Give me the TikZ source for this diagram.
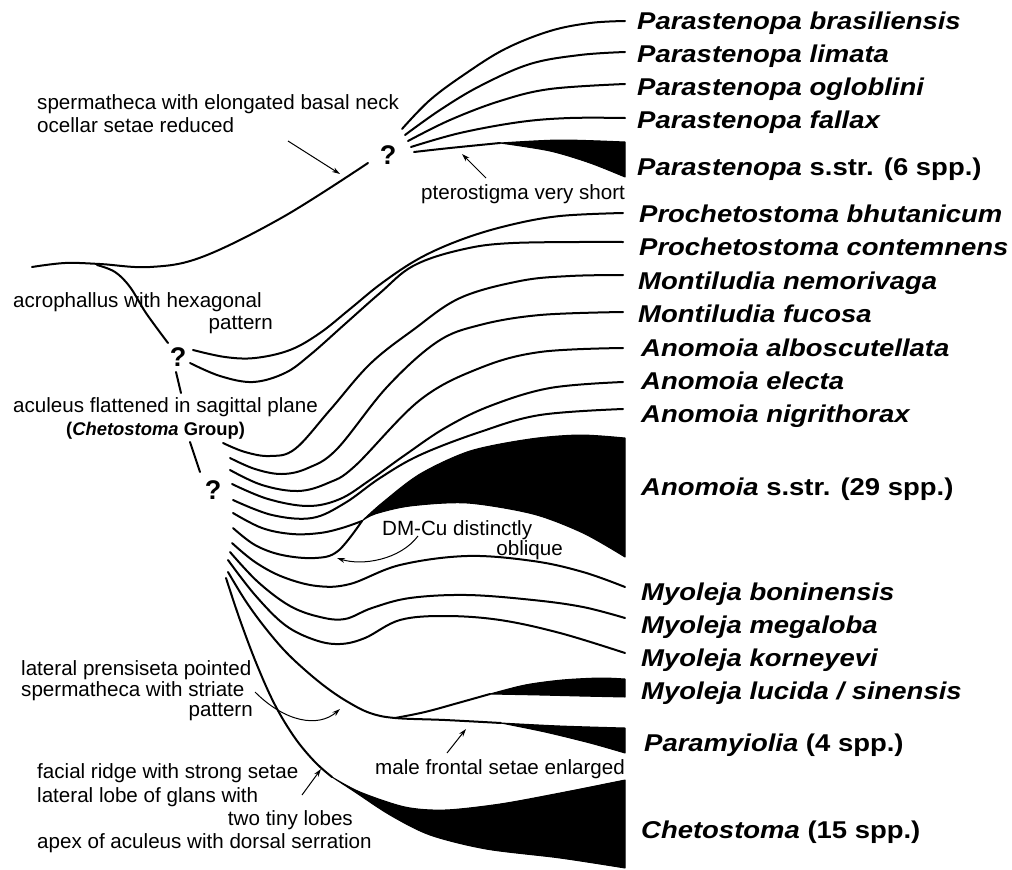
\documentclass[tikz,border=0pt]{standalone}
\usepackage{fontspec}
\setmainfont{Liberation Sans}
\newfontfamily\taxfont{Liberation Sans}[FakeStretch=1.13]
\usetikzlibrary{arrows.meta}

\begin{document}
\begin{tikzpicture}[
    x=1pt, y=-1pt,
    >={Stealth[length=8pt, width=5pt]},
    branch/.style={line width=2pt, line cap=round, line join=round},
    clade/.style={fill=black, draw=black, line width=1pt, line join=round},
    taxon/.style={anchor=base west, inner sep=0pt, font=\taxfont\fontsize{24.3}{28}\selectfont\bfseries\itshape},
    note/.style={anchor=base west, inner sep=0pt, font=\fontsize{20.6}{23}\selectfont},
    qmark/.style={inner sep=0pt, font=\fontsize{27}{28}\selectfont\bfseries},
    callout/.style={->, line width=1pt}
]

\useasboundingbox (0,0) rectangle (1012,870);

% 1. ROOT STEM AND BACKBONE
\draw[branch] plot[smooth, tension=0.6] coordinates {(32,267) (65,263) (100,264) (150,267) (202,257) (283,217) (368,163)};
\draw[branch] plot[smooth, tension=0.6] coordinates {(97,265) (115,272) (130,287) (146,313) (168,343)};
\draw[branch] (176,372) -- (181,393);
\draw[branch] (190,442) -- (200,472);

\node[qmark] (q1) at (388,155) {?};
\node[qmark] (q2) at (178,357) {?};
\node[qmark] (q3) at (213,490) {?};

% 2. PARASTENOPA FAN (upper ?)
\draw[branch] plot[smooth, tension=0.6] coordinates {(402,129) (430,100) (465,74) (505,49) (550,31) (590,23) (625,21)};
\draw[branch] plot[smooth, tension=0.6] coordinates {(405,135) (440,110) (480,86) (530,64) (580,55) (625,52)};
\draw[branch] plot[smooth, tension=0.6] coordinates {(408,141) (450,120) (500,101) (550,89) (625,84)};
\draw[branch] plot[smooth, tension=0.6] coordinates {(411,147) (460,133) (520,122) (570,118) (625,118)};
\draw[branch] plot[smooth, tension=0.6] coordinates {(414,152) (450,148) (500,143)};
\fill[clade] plot[smooth] coordinates {(500,143) (560,140) (625,142)}
    -- plot[smooth] coordinates {(625,177) (590,163) (550,151) (500,143)} -- cycle;

% 3. PROCHETOSTOMA (middle ?)
\draw[branch] plot[smooth, tension=0.6] coordinates {(193,350) (225,357) (255,358) (290,350) (320,333) (350,309) (382,283) (420,258) (463,239) (510,225) (560,216) (623,213)};
\draw[branch] plot[smooth, tension=0.6] coordinates {(190,363) (220,376) (253,382) (285,373) (310,355) (345,324) (380,293) (413,266) (460,250) (513,243) (623,242)};

% 4. CHETOSTOMA GROUP (lower ?)
\draw[branch] plot[smooth, tension=0.6] coordinates {(223,443) (245,452) (270,456) (295,449) (330,410) (370,364) (413,330) (460,298) (520,281) (570,276) (623,275)};
\draw[branch] plot[smooth, tension=0.6] coordinates {(230,458) (255,469) (282,474) (308,468) (337,449) (387,387) (437,342) (480,325) (540,315) (623,312)};
\draw[branch] plot[smooth, tension=0.6] coordinates {(230,470) (262,485) (298,491) (328,483) (355,466) (420,400) (480,368) (540,352) (623,348)};
\draw[branch] plot[smooth, tension=0.6] coordinates {(232,484) (268,499) (308,506) (340,499) (370,480) (405,455) (445,428) (490,406) (550,388) (623,382)};
\draw[branch] plot[smooth, tension=0.6] coordinates {(233,500) (272,515) (312,518) (345,503) (380,478) (420,455) (480,432) (540,415) (623,409)};

% Anomoia s.str.
\draw[branch] plot[smooth, tension=0.6] coordinates {(233,513) (262,528) (292,534) (320,533) (342,528) (362,521)};
\draw[branch] plot[smooth, tension=0.6] coordinates {(233,528) (255,545) (282,555) (315,558) (338,551) (362,521)};
\fill[clade] plot[smooth] coordinates {(362,521) (382,503) (420,474) (470,451) (530,439) (580,435) (625,438)}
    -- plot[smooth] coordinates {(625,557) (583,533) (533,514) (467,503) (410,506) (375,514) (362,521)} -- cycle;

% Myoleja
\draw[branch] plot[smooth, tension=0.6] coordinates {(232,543) (255,562) (283,577) (317,586) (350,584) (400,565) (467,556) (533,561) (583,572) (625,587)};
\draw[branch] plot[smooth, tension=0.6] coordinates {(230,552) (258,582) (290,606) (320,617) (345,619) (372,608) (410,598) (467,595) (533,600) (583,607) (625,618)};
\draw[branch] plot[smooth, tension=0.6] coordinates {(228,560) (255,595) (285,625) (315,640) (340,644) (365,638) (400,620) (445,616) (500,620) (560,633) (625,653)};

% Myoleja lucida / Paramyiolia
\draw[branch] plot[smooth, tension=0.6] coordinates {(228,572) (245,600) (263,625) (284,650) (305,670) (327,688) (348,702) (370,713) (395,718) (445,720) (501,723)};
\draw[branch] plot[smooth, tension=0.6] coordinates {(395,718) (425,712) (458,703) (490,694)};
\fill[clade] plot[smooth] coordinates {(490,694) (525,685) (562,680) (600,678) (625,679)}
    -- plot[smooth] coordinates {(625,697) (580,696) (540,695) (490,694)} -- cycle;
\fill[clade] plot[smooth] coordinates {(501,723) (560,726) (625,728)}
    -- plot[smooth] coordinates {(625,753) (590,743) (545,732) (501,723)} -- cycle;

% Chetostoma
\draw[branch] plot[smooth, tension=0.6] coordinates {(226,578) (240,620) (257,665) (275,705) (295,738) (315,762) (332,777)};
\fill[clade] plot[smooth] coordinates {(332,777) (360,792) (405,807) (445,810) (500,804) (560,793) (625,780)}
    -- plot[smooth] coordinates {(625,868) (560,858) (486,849) (430,835) (390,815) (355,792) (332,777)} -- cycle;

% 5. CHARACTER CALLOUTS
\draw[callout] (288,141) -- (340,174);
\draw[callout] (486,178) -- (462,154);
\draw[callout] (418,536) .. controls (400,560) and (362,566) .. (337,558);
\draw[callout] (255,692) .. controls (285,722) and (318,728) .. (340,709);
\draw[callout] (447,753) -- (466,729);
\draw[callout] (302,795) -- (321,769);

\node[note] (spermA) at (37,109) {spermatheca with elongated basal neck};
\node[note] (ocell) at (37,132) {ocellar setae reduced};
\node[note] (ptero) at (421,199) {pterostigma very short};
\node[note] (acroA) at (13,307) {acrophallus with hexagonal};
\node[note, anchor=base east] (acroB) at (273,329) {pattern};
\node[note] (acul) at (13,412) {aculeus flattened in sagittal plane};
\node[note, font=\fontsize{18.4}{21}\selectfont\bfseries] (cgroup) at (66,435) {(\textit{Chetostoma} Group)};
\node[note] (dmcuA) at (382,535) {DM-Cu distinctly};
\node[note, anchor=base east] (dmcuB) at (563,555) {oblique};
\node[note] (prensA) at (21,675) {lateral prensiseta pointed};
\node[note] (prensB) at (21,696) {spermatheca with striate};
\node[note, anchor=base east] (prensC) at (253,716) {pattern};
\node[note] (frons) at (375,774) {male frontal setae enlarged};
\node[note] (facA) at (37,778) {facial ridge with strong setae};
\node[note] (facB) at (37,802) {lateral lobe of glans with};
\node[note, anchor=base east] (facC) at (353,825) {two tiny lobes};
\node[note] (facD) at (37,848) {apex of aculeus with dorsal serration};

% 6. TAXA
\node[taxon] (brasil) at (637,29) {Parastenopa brasiliensis};
\node[taxon] (limata) at (637,62) {Parastenopa limata};
\node[taxon] (oglob) at (637,95) {Parastenopa ogloblini};
\node[taxon] (fallax) at (637,128) {Parastenopa fallax};
\node[taxon] (parastr) at (637,175) {Parastenopa \upshape s.str. (6 spp.)};
\node[taxon] (bhutan) at (639,222) {Prochetostoma bhutanicum};
\node[taxon] (contem) at (639,255) {Prochetostoma contemnens};
\node[taxon] (nemori) at (638,289) {Montiludia nemorivaga};
\node[taxon] (fucosa) at (638,322) {Montiludia fucosa};
\node[taxon] (albosc) at (641,356) {Anomoia alboscutellata};
\node[taxon] (electa) at (641,389) {Anomoia electa};
\node[taxon] (nigri) at (641,422) {Anomoia nigrithorax};
\node[taxon] (anomstr) at (641,495) {Anomoia \upshape s.str. (29 spp.)};
\node[taxon] (bonin) at (641,600) {Myoleja boninensis};
\node[taxon] (megal) at (641,633) {Myoleja megaloba};
\node[taxon] (korney) at (641,666) {Myoleja korneyevi};
\node[taxon] (lucida) at (641,699) {Myoleja lucida / sinensis};
\node[taxon] (paramy) at (644,751) {Paramyiolia \upshape (4 spp.)};
\node[taxon] (chetos) at (641,838) {Chetostoma \upshape (15 spp.)};

\end{tikzpicture}
\end{document}
